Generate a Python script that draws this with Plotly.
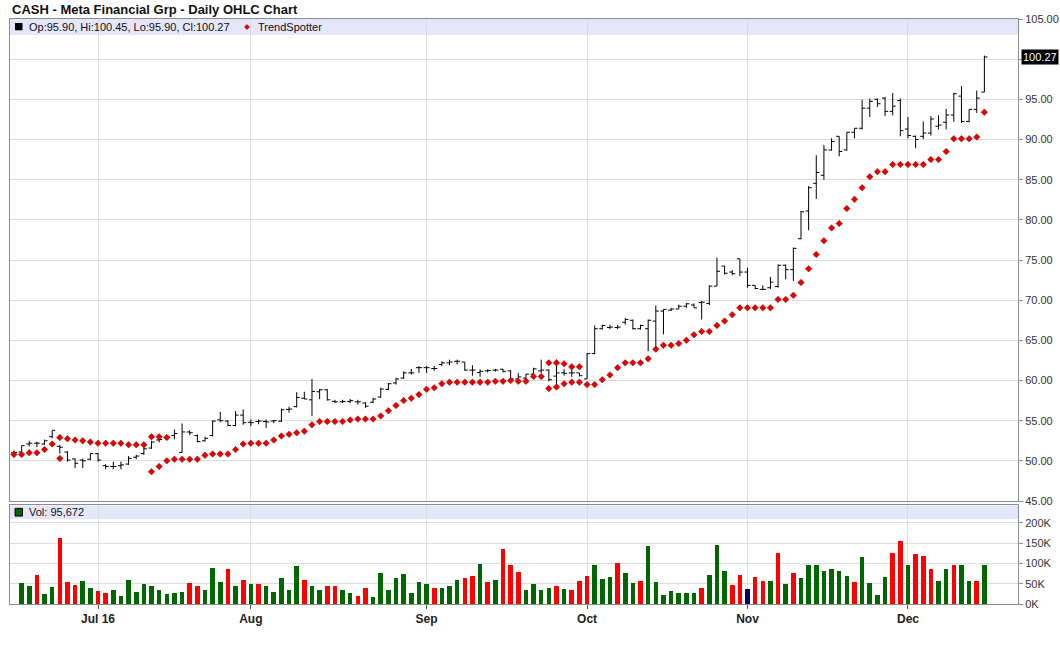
import pandas as pd
import plotly.graph_objects as go
from plotly.subplots import make_subplots

# trading days Jun 16 - Dec 15 2016 (market holidays removed)
holidays = ["2016-07-04", "2016-09-05", "2016-11-24"]
dates = [d.strftime("%Y-%m-%d") for d in pd.bdate_range("2016-06-16", "2016-12-15")
         if d.strftime("%Y-%m-%d") not in holidays]

opens = [51.0, 51.1, 52.1, 52.2, 52.1, 53.0, 51.8, 51.1, 50.25, 50.1,
         50.2, 50.9, 49.4, 49.3, 49.4, 49.6, 50.45, 50.9, 51.6, 52.6,
         52.9, 53.15, 51.05, 53.6, 53.15, 52.5, 53.15, 55.1, 54.95, 54.4,
         55.7, 54.8, 54.9, 54.9, 54.95, 54.95, 56.4, 56.75, 57.8, 57.6,
         58.6, 58.85, 57.4, 57.35, 57.4, 57.35, 57.2, 57.3, 57.95, 58.9,
         59.7, 60.3, 60.95, 61.6, 61.6, 61.5, 62.0, 62.2, 62.4, 62.3,
         61.3, 61.0, 61.2, 61.3, 61.4, 61.2, 60.2, 60.3, 60.8, 61.2,
         61.3, 60.55, 60.95, 60.95, 60.95, 60.2, 63.35, 66.45, 66.6, 66.6,
         67.25, 67.5, 66.45, 66.45, 67.4, 68.65, 68.75, 68.9, 69.25, 69.4,
         69.7, 69.6, 71.75, 74.25, 73.5, 75.15, 73.5, 71.85, 71.35, 71.55,
         71.7, 74.35, 73.8, 77.65, 81.1, 84.55, 85.55, 88.7, 90.4, 88.7,
         90.9, 91.4, 93.9, 95.0, 95.15, 93.5, 94.85, 91.3, 90.4, 90.4,
         90.8, 91.65, 92.15, 93.05, 95.4, 92.25, 93.75, 95.90]
highs = [51.3, 51.9, 52.5, 52.4, 52.65, 53.8, 52.0, 51.2, 50.3, 50.3,
         51.0, 51.0, 49.6, 49.9, 49.9, 50.6, 50.75, 51.7, 52.5, 53.05,
         53.15, 53.9, 54.65, 53.8, 53.3, 53.0, 55.05, 56.1, 55.05, 56.2,
         56.4, 55.15, 55.15, 55.15, 55.1, 56.5, 56.75, 58.55, 58.6, 60.2,
         58.95, 58.95, 57.6, 57.6, 57.7, 57.6, 57.3, 57.85, 59.1, 59.7,
         60.35, 61.15, 61.45, 61.8, 61.8, 61.8, 62.4, 62.6, 62.6, 62.3,
         61.9, 61.4, 61.4, 61.45, 61.45, 61.3, 60.95, 60.8, 61.6, 62.6,
         61.4, 62.6, 61.4, 61.9, 60.95, 63.4, 66.85, 66.95, 66.95, 66.9,
         67.8, 67.6, 66.95, 67.6, 69.35, 68.85, 69.05, 69.45, 69.65, 69.6,
         69.9, 71.85, 75.3, 74.25, 73.75, 75.15, 74.05, 71.85, 71.85, 72.9,
         74.45, 74.45, 76.55, 81.1, 84.2, 88.05, 89.3, 90.15, 90.4, 90.9,
         91.4, 94.95, 95.1, 95.1, 95.3, 95.8, 95.1, 92.8, 90.5, 92.25,
         92.9, 93.0, 93.8, 95.8, 96.65, 93.75, 96.1, 100.45]
lows = [50.5, 51.05, 51.8, 51.7, 52.0, 52.8, 50.9, 49.9, 49.1, 49.1,
        50.1, 49.9, 48.95, 48.95, 48.95, 49.5, 50.2, 50.75, 51.5, 52.3,
        52.65, 52.7, 51.0, 53.2, 52.3, 52.4, 53.05, 54.8, 54.3, 54.3,
        54.5, 54.3, 54.55, 54.1, 54.7, 54.85, 56.0, 56.65, 57.7, 55.6,
        57.7, 57.5, 57.2, 57.2, 57.2, 57.0, 56.6, 57.2, 57.85, 58.8,
        59.5, 60.2, 60.75, 60.95, 60.95, 61.2, 61.8, 61.9, 62.0, 61.2,
        60.6, 60.45, 61.0, 61.1, 61.0, 59.8, 59.8, 60.1, 60.55, 60.95,
        59.9, 59.5, 60.6, 60.45, 60.5, 60.2, 63.25, 66.35, 66.4, 66.4,
        66.95, 66.35, 66.35, 63.65, 63.85, 65.75, 68.65, 68.9, 69.05, 69.05,
        67.6, 69.4, 71.75, 73.2, 73.1, 73.0, 71.55, 71.35, 71.25, 71.4,
        71.55, 72.6, 72.4, 77.6, 78.7, 82.6, 85.0, 88.6, 87.9, 88.6,
        90.15, 91.25, 92.8, 94.05, 92.9, 93.0, 90.4, 90.15, 88.9, 90.05,
        90.5, 91.25, 91.25, 92.2, 92.05, 92.15, 93.3, 95.90]
closes = [51.05, 51.9, 52.2, 52.2, 52.5, 53.8, 51.7, 50.1, 49.7, 50.0,
          50.9, 50.1, 49.3, 49.3, 49.5, 50.3, 50.6, 51.5, 52.35, 52.65,
          52.95, 53.4, 53.6, 53.5, 52.4, 52.8, 54.95, 55.0, 54.4, 55.7,
          54.75, 54.75, 54.95, 54.85, 55.0, 56.35, 56.45, 57.9, 57.7, 58.65,
          58.85, 57.6, 57.35, 57.4, 57.5, 57.35, 56.8, 57.7, 58.95, 59.6,
          60.2, 60.95, 60.95, 61.6, 61.6, 61.5, 62.2, 62.3, 62.4, 61.3,
          61.3, 61.15, 61.25, 61.3, 61.15, 60.2, 60.45, 60.8, 61.45, 61.3,
          60.1, 60.95, 60.9, 60.95, 60.6, 63.35, 66.45, 66.85, 66.65, 66.65,
          67.6, 66.45, 66.85, 67.5, 68.65, 68.85, 68.9, 69.25, 69.55, 69.05,
          69.75, 71.75, 73.6, 73.35, 73.3, 73.5, 71.85, 71.45, 71.35, 72.25,
          74.35, 73.8, 76.45, 81.0, 84.0, 85.9, 88.7, 89.75, 88.5, 90.9,
          91.4, 93.9, 94.75, 94.45, 93.5, 94.15, 91.1, 90.5, 90.0, 90.8,
          92.55, 91.8, 93.05, 95.7, 92.25, 93.75, 95.15, 100.27]

# TrendSpotter dots, plus the second dot shown on switch days
trend = [50.8, 50.8, 51.0, 51.0, 51.4, 52.1, 52.9, 52.75, 52.6, 52.5,
         52.35, 52.2, 52.2, 52.2, 52.2, 52.0, 52.0, 52.0, 48.65, 49.3,
         50.0, 50.2, 50.2, 50.2, 50.2, 50.7, 50.85, 50.85, 50.85, 51.4,
         52.1, 52.2, 52.2, 52.2, 52.6, 53.1, 53.3, 53.5, 53.7, 54.5,
         54.9, 54.9, 54.9, 54.9, 55.1, 55.2, 55.2, 55.2, 55.6, 56.25,
         56.9, 57.5, 57.8, 58.25, 58.9, 59.1, 59.6, 59.8, 59.8, 59.8,
         59.8, 59.8, 59.8, 59.9, 59.9, 60.0, 59.9, 59.9, 60.5, 60.5,
         59.0, 59.2, 59.6, 59.8, 59.8, 59.5, 59.5, 60.1, 60.7, 61.6,
         62.2, 62.2, 62.2, 62.7, 63.9, 64.4, 64.4, 64.6, 65.0, 65.7,
         66.1, 66.1, 66.85, 67.4, 68.2, 69.05, 69.05, 69.05, 69.05, 69.05,
         70.1, 70.1, 70.6, 72.2, 73.9, 75.7, 77.4, 79.0, 79.55, 81.4,
         82.55, 84.0, 85.35, 86.0, 86.0, 86.9, 86.9, 86.9, 86.9, 86.9,
         87.5, 87.5, 88.5, 90.1, 90.1, 90.1, 90.3, 93.4]
trend_alt = {6: 50.3, 18: 53.0, 19: 53.0, 20: 52.9,
             70: 62.2, 71: 62.2, 72: 62.1, 73: 61.7, 74: 61.7}

# volume in thousands (first day has no bar); g = up, r = down, b = unchanged
volume_k = [None, 52, 45, 72, 25, 42, 162, 55, 47, 57,
            40, 32, 27, 35, 20, 60, 30, 50, 45, 35,
            25, 27, 30, 52, 45, 33, 88, 53, 85, 43,
            58, 48, 50, 43, 30, 65, 33, 93, 58, 45,
            35, 45, 43, 33, 28, 20, 38, 18, 75, 33,
            63, 73, 28, 53, 50, 40, 38, 45, 60, 65,
            70, 98, 55, 58, 136, 95, 78, 35, 50, 35,
            40, 45, 37, 35, 57, 70, 97, 62, 67, 102,
            77, 52, 57, 142, 55, 22, 32, 27, 27, 27,
            40, 72, 145, 82, 47, 72, 37, 67, 57, 57,
            125, 50, 75, 65, 97, 97, 82, 85, 80, 70,
            55, 115, 52, 22, 67, 125, 155, 97, 122, 117,
            85, 57, 87, 97, 95, 57, 57, 95.672]
vol_dir = ("g" "ggrggrrrggrrggggggggggrr"
           "gggrgrgrgggggrggrrggrrggggggggrgggrrgrgrrrgg"
           "ggrgrrrgggrggrgggggggrgggrrbrrgrgr"
           "gggggggrggggrrgrrrggrggrggg")

tick_dates = ["2016-07-01", "2016-08-01", "2016-09-01", "2016-10-03", "2016-11-01", "2016-12-01"]
tick_text = ["Jul 16", "Aug", "Sep", "Oct", "Nov", "Dec"]
price_ticks = [45, 50, 55, 60, 65, 70, 75, 80, 85, 90, 95, 100, 105]
# 100.00 sits under the last-price tag, so its label is left blank
price_text = ["45.00", "50.00", "55.00", "60.00", "65.00", "70.00", "75.00",
              "80.00", "85.00", "90.00", "95.00", "", "105.00"]
vol_ticks = [0, 50000, 100000, 150000, 200000]
vol_text = ["0K", "50K", "100K", "150K", "200K"]

bar_colors = {"g": "#006600", "r": "#ff0000", "b": "#000066"}
font_name = "Liberation Sans, Arial"

fig = make_subplots(rows=2, cols=1, shared_xaxes=True)

fig.add_trace(go.Ohlc(x=dates, open=opens, high=highs, low=lows, close=closes,
                      increasing_line_color="black", decreasing_line_color="black",
                      line_width=1, tickwidth=0.4, hoverinfo="skip"), row=1, col=1)

dot = dict(symbol="diamond", size=5, color="#e60000", line=dict(color="#8a0000", width=0.5))
fig.add_trace(go.Scatter(x=dates, y=trend, mode="markers", marker=dot, hoverinfo="skip"),
              row=1, col=1)
fig.add_trace(go.Scatter(x=[dates[i] for i in trend_alt], y=list(trend_alt.values()),
                         mode="markers", marker=dot, hoverinfo="skip"), row=1, col=1)

fig.add_trace(go.Bar(x=dates, y=[v * 1000 if v is not None else None for v in volume_k],
                     marker_color=[bar_colors[c] for c in vol_dir], marker_line_width=0,
                     width=0.6, hoverinfo="skip"), row=2, col=1)

axis_style = dict(showline=True, linecolor="#8c8c8c", linewidth=1, mirror=True,
                  showgrid=True, gridcolor="#dcdcdc", gridwidth=1, zeroline=False,
                  automargin=False)

xr = [-0.52, 131.4]
fig.update_xaxes(type="category", range=xr, tickvals=tick_dates, ticktext=tick_text,
                 rangeslider_visible=False, **axis_style)
fig.update_xaxes(showticklabels=False, ticks="", row=1, col=1)
fig.update_xaxes(ticks="outside", ticklen=4, tickcolor="#555",
                 tickfont=dict(size=12, color="#222", family=font_name),
                 ticktext=["<b>%s</b>" % t for t in tick_text], row=2, col=1)

fig.update_yaxes(side="right", ticks="outside", ticklen=4, tickcolor="#8c8c8c",
                 tickfont=dict(size=11, color="#333", family=font_name), **axis_style)
fig.update_yaxes(domain=[0.176, 1.0], range=[45, 105], tickvals=price_ticks,
                 ticktext=price_text, row=1, col=1)
fig.update_yaxes(domain=[0.0, 0.169], range=[0, 244000], tickvals=vol_ticks,
                 ticktext=vol_text, row=2, col=1)

# lavender legend bands
band = "#e6e6fa"
fig.add_shape(type="rect", xref="x domain", yref="y", x0=0, x1=1, y0=103.0, y1=105,
              fillcolor=band, line_width=0, layer="below")
fig.add_shape(type="rect", xref="x2 domain", yref="y2", x0=0, x1=1, y0=209500, y1=244000,
              fillcolor=band, line_width=0, layer="below")

# legend swatches
fig.add_shape(type="rect", xref="paper", yref="y", x0=0.005, x1=0.0124, y0=103.6, y1=104.5,
              fillcolor="black", line_width=0)
fig.add_shape(type="rect", xref="paper", yref="y2", x0=0.005, x1=0.0124, y0=217000, y1=236000,
              fillcolor="#006600", line=dict(color="black", width=1))
fig.add_shape(type="path", xref="paper", yref="y",
              path="M 0.2326,104.0 L 0.2351,104.32 L 0.2376,104.0 L 0.2351,103.68 Z",
              fillcolor="#e60000", line=dict(color="#8a0000", width=0.5))

legend_font = dict(size=11, color="#111", family=font_name)
fig.add_annotation(xref="paper", yref="y", x=0.0165, y=104.0, xanchor="left", yanchor="middle",
                   text="Op:95.90, Hi:100.45, Lo:95.90, Cl:100.27", showarrow=False, font=legend_font)
fig.add_annotation(xref="paper", yref="y", x=0.244, y=104.0, xanchor="left", yanchor="middle",
                   text="TrendSpotter", showarrow=False, font=legend_font)
fig.add_annotation(xref="paper", yref="y2", x=0.0165, y=226500, xanchor="left", yanchor="middle",
                   text="Vol: 95,672", showarrow=False, font=legend_font)

# last price tag on the right axis
fig.add_annotation(xref="paper", yref="y", x=1.0, y=closes[-1], xanchor="left", yanchor="middle",
                   xshift=3, text="100.27", showarrow=False, bgcolor="black", borderpad=1,
                   font=dict(size=11, color="white", family=font_name))

fig.add_annotation(xref="paper", yref="paper", x=0.0, y=1.0154, xanchor="left", yanchor="middle",
                   text="<b>CASH - Meta Financial Grp - Daily OHLC Chart</b>", showarrow=False,
                   font=dict(size=13, color="#111", family=font_name))

fig.update_layout(width=1060, height=645, margin=dict(l=10, r=42, t=19, b=41),
                  paper_bgcolor="white", plot_bgcolor="white", showlegend=False,
                  bargap=0, font=dict(family=font_name, color="#333"))

# drop the page's default 8px body margin so the chart sits at the window corner
fig.write_html("out.html", config={"displayModeBar": False},
               post_script="document.body.style.margin='0';")
